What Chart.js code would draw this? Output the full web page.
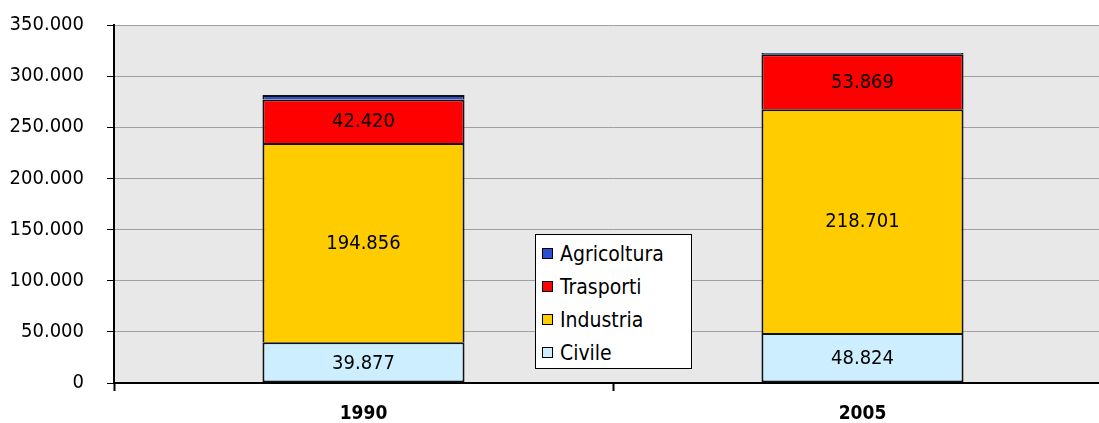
<!DOCTYPE html>
<html>
<head>
<meta charset="utf-8">
<script src="https://cdn.jsdelivr.net/npm/chart.js@4/dist/chart.umd.min.js"></script>
<style>
    body { margin: 0; background: #fff; }
    #wrap { position: relative; width: 1099px; height: 423px; overflow: hidden; }
    #chart { position: absolute; left: 0; top: -10px; }
    #legend {
        position: absolute; left: 535px; top: 234px; width: 155px; height: 133px;
        background: #fff; border: 1px solid #000;
        font-family: "DejaVu Sans Condensed", "DejaVu Sans", sans-serif; font-size: 21px; color: #000;
    }
    #legend .item { position: absolute; left: 6px; height: 24px; line-height: 24px; white-space: nowrap; }
    #legend .box { display: inline-block; width: 9px; height: 9px; border: 1px solid #000; margin-right: 7px; vertical-align: 2px; }
</style>
</head>
<body>
<div id="wrap">
    <canvas id="chart" width="1112" height="433"></canvas>
    <div id="legend"></div>
</div>
<script>
const years = ['1990', '2005'];
const civile = [39877, 48824];
const industria = [194856, 218701];
const trasporti = [42420, 53869];
const agricoltura = [4400, 1300];
const yTicks = [0, 50000, 100000, 150000, 200000, 250000, 300000, 350000];

const FONT = '"DejaVu Sans Condensed", "DejaVu Sans", sans-serif';

const fmt = function (v) {
    return String(v).replace(/\B(?=(\d{3})+(?!\d))/g, '.');
}

// grey plot background
const plotBg = {
    id: 'plotBg',
    beforeDraw: function (chart) {
        var a = chart.chartArea;
        var ctx = chart.ctx;
        ctx.save();
        ctx.fillStyle = '#e8e8e8';
        ctx.fillRect(a.left, a.top, a.right - a.left, a.bottom - a.top);
        ctx.restore();
    }
}

// numbers inside the segments
const valueLabels = {
    id: 'valueLabels',
    afterDatasetsDraw: function (chart) {
        var ctx = chart.ctx;
        ctx.save();
        ctx.font = '20px ' + FONT;
        ctx.fillStyle = '#000';
        ctx.textAlign = 'center';
        ctx.textBaseline = 'middle';
        chart.data.datasets.forEach(function (ds, i) {
            if (ds.label == 'Agricoltura') return;
            chart.getDatasetMeta(i).data.forEach(function (el, j) {
                ctx.fillText(fmt(ds.data[j]), el.x, (el.y + el.base) / 2 + 1);
            })
        })
        ctx.restore();
    }
}

const datasets = [
    { label: 'Civile', data: civile, backgroundColor: '#cceeff' },
    { label: 'Industria', data: industria, backgroundColor: '#ffcc00' },
    { label: 'Trasporti', data: trasporti, backgroundColor: '#ff0000' },
    { label: 'Agricoltura', data: agricoltura, backgroundColor: '#2a4fd0' },
].map(function (d, i) {
    return Object.assign(d, {
        borderColor: '#111',
        borderWidth: { top: 2, bottom: i == 0 ? 2 : 0, left: 2, right: 2 },
        borderSkipped: false,
        barPercentage: 0.405,
        categoryPercentage: 1
    });
});

new Chart(document.getElementById('chart'), {
    type: 'bar',
    data: { labels: years, datasets: datasets },
    options: {
        responsive: false,
        animation: false,
        layout: { padding: { top: 16, right: 0, left: 0, bottom: 0 } },
        plugins: {
            legend: { display: false },
            tooltip: { enabled: false }
        },
        scales: {
            x: {
                stacked: true,
                afterFit: function (s) { s.height = 40; },
                border: { color: '#000', width: 2 },
                grid: {
                    offset: true,
                    drawOnChartArea: false,
                    drawTicks: true,
                    tickLength: 8,
                    tickColor: '#000',
                    tickWidth: 2
                },
                ticks: {
                    color: '#000',
                    padding: 12,
                    font: { family: FONT, size: 19, weight: 'bold' }
                }
            },
            y: {
                stacked: true,
                min: 0,
                max: 350000,
                afterFit: function (s) { s.width = 114; },
                afterBuildTicks: function (s) {
                    s.ticks = yTicks.map(function (v) { return { value: v }; });
                },
                border: { color: '#000', width: 2 },
                grid: {
                    color: '#a0a0a0',
                    lineWidth: 1,
                    borderDash: [1, 1],
                    tickLength: 7,
                    tickColor: '#000',
                    tickBorderDash: [],
                    tickWidth: 1
                },
                ticks: {
                    color: '#000',
                    padding: 23,
                    font: { family: FONT, size: 20 },
                    callback: function (v) { return fmt(v); }
                }
            }
        }
    },
    plugins: [plotBg, valueLabels]
});

// legend, top to bottom
const legendEl = document.getElementById('legend');
datasets.slice().reverse().forEach(function (d, i) {
    var item = document.createElement('div');
    item.className = 'item';
    item.style.top = (7 + i * 33) + 'px';
    item.innerHTML = '<span class="box" style="background:' + d.backgroundColor + '"></span>' + d.label;
    legendEl.appendChild(item);
});
</script>
</body>
</html>
